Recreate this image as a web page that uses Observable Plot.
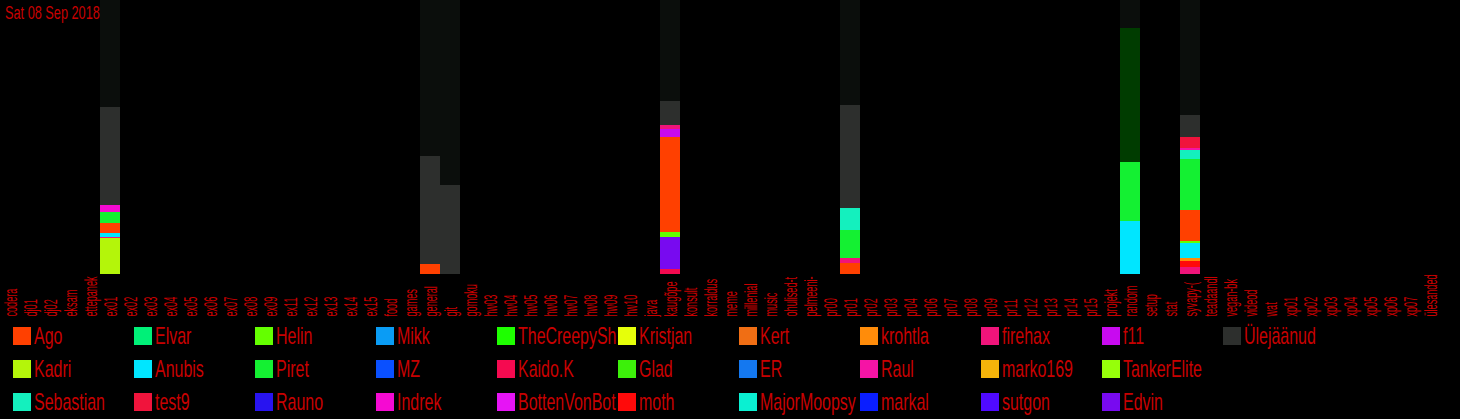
<!DOCTYPE html>
<html><head><meta charset="utf-8">
<script src="https://cdn.jsdelivr.net/npm/d3@7"></script>
<script src="https://cdn.jsdelivr.net/npm/@observablehq/plot@0.6"></script>
<style>
html,body{margin:0;padding:0;background:#000;}
#wrap{position:relative;width:1460px;height:419px;overflow:hidden;background:#000;font-family:"Liberation Sans",Arial,sans-serif;}
#wrap svg{display:block;}
#title{position:absolute;left:5px;top:3px;font-size:19px;line-height:19px;color:#c80000;transform:scaleX(0.67);transform-origin:0 0;white-space:nowrap;}
#legend{display:grid;grid-auto-flow:column;grid-template-rows:repeat(3,33px);grid-auto-columns:121px;padding-left:13px;}
.item{display:flex;align-items:center;overflow:hidden;white-space:nowrap;width:121px;}
.sw{width:18px;height:18px;flex:none;margin-right:3px;}
.lbl{flex:none;font-size:24px;line-height:33px;color:#c80000;transform:scaleX(0.665);transform-origin:0 50%;}
</style></head>
<body>
<div id="wrap"><div id="chart"></div><div id="title"></div><div id="legend"></div></div>
<script>
const title = "Sat 08 Sep 2018";

const channels = ["codera","dj01","dj02","eksam","ettepanek","ex01","ex02","ex03","ex04","ex05","ex06","ex07","ex08","ex09","ex11","ex12","ex13","ex14","ex15","food","games","general","git","gomoku","hw03","hw04","hw05","hw06","hw07","hw08","hw09","hw10","java","kaugõpe","konsult","korraldus","meme","millenial","music","ohulised-t","pelmeeni-","pr00","pr01","pr02","pr03","pr04","pr06","pr07","pr08","pr09","pr11","pr12","pr13","pr14","pr15","projekt","random","setup","stat","syvapy-(","teadaandl","vegan-bk","videod","wat","xp01","xp02","xp03","xp04","xp05","xp06","xp07","ülesanded"];

const users = ["Ago","Kadri","Sebastian","Elvar","Anubis","test9","Helin","Piret","Rauno","Mikk","MZ","Indrek","TheCreepySh","Kaido.K","BottenVonBot","Kristjan","Glad","moth","Kert","ER","MajorMoopsy","krohtla","Raul","markal","firehax","marko169","sutgon","f11","TankerElite","Edvin","Ülejäänud"];
const userColors = ["#ff4000","#b4f50a","#14f0be","#00f078","#00e6ff","#f0143c","#64ff00","#14f032","#2814f0","#0a9cf5","#0a50ff","#f50ad2","#1eff00","#f50a50","#e614f5","#e6ff0a","#3cf00a","#ff0a0a","#f06e14","#1478f0","#0af0d2","#ff8c0a","#f514a5","#0a1eff","#f0147a","#f5b40a","#500aff","#c80af0","#96ff0a","#780af0","#2d2f2d"];
const hiddenUser = "muu";
const hiddenColor = "#003c00";

const yMax = 274;
const backgroundColor = "#0b0e0c";

// stacks, bottom to top: [user, messages]
const stackEx01 = [["Kadri",36],["firehax",1],["Anubis",4],["Ago",10],["Piret",11],["Indrek",7],["Ülejäänud",98]];
const stackGeneral = [["Ago",10],["Ülejäänud",108]];
const stackGit = [["Ülejäänud",89]];
const stackKaugope = [["Kaido.K",5],["Edvin",32],["Helin",5],["Ago",95],["f11",8],["firehax",4],["Ülejäänud",24]];
const stackPr01 = [["Ago",11],["firehax",5],["Piret",28],["Sebastian",22],["Ülejäänud",103]];
const stackRandom = [["Anubis",53],["Piret",59],["muu",134]];
const stackSyvapy = [["firehax",7],["moth",6],["krohtla",3],["Anubis",15],["Helin",2],["Ago",31],["Piret",51],["Sebastian",9],["Raul",2],["test9",11],["Ülejäänud",22]];

const active = [["ex01",stackEx01],["general",stackGeneral],["git",stackGit],["kaugõpe",stackKaugope],["pr01",stackPr01],["random",stackRandom],["syvapy-(",stackSyvapy]];

const rows = [];
for (const [channel, stack] of active) for (const [user, value] of stack) rows.push({channel, user, value});

const svg = Plot.plot({
  width: 1460, height: 319,
  marginTop: 0, marginBottom: 45, marginLeft: 0, marginRight: 20,
  style: {background: "#000", fontFamily: "'Liberation Sans', Arial, sans-serif"},
  x: {domain: channels, padding: 0, axis: null},
  y: {domain: [0, yMax], axis: null},
  color: {domain: [...users, hiddenUser], range: [...userColors, hiddenColor]},
  marks: [
    Plot.barY(active.map(d => d[0]), {x: d => d, y: () => yMax, fill: backgroundColor}),
    Plot.barY(rows, {x: "channel", y: "value", fill: "user"}),
    Plot.text(channels, {x: d => d, text: d => d, frameAnchor: "bottom", rotate: -90, textAnchor: "start", lineAnchor: "middle", dy: 42, fill: "#c80000", fontSize: 19})
  ]
});
document.getElementById("chart").appendChild(svg);

// condense label glyphs and clip labels below plot area
const s = d3.select(svg);
const texts = s.selectAll("text");
texts.each(function() {
  const t = this.getAttribute("transform") || "";
  this.setAttribute("transform", t + " scale(0.48,1)");
});
const firstText = texts.node();
if (firstText) {
  const lgNode = firstText.parentNode;
  s.append("defs").append("clipPath").attr("id", "lblclip").append("rect")
    .attr("x", 0).attr("y", yMax).attr("width", 1460).attr("height", 45);
  const wrapper = s.append("g").attr("clip-path", "url(#lblclip)");
  wrapper.node().appendChild(lgNode);
}

document.getElementById("title").textContent = title;

const legend = d3.select("#legend");
users.forEach((u, i) => {
  const it = legend.append("div").attr("class", "item");
  it.append("div").attr("class", "sw").style("background", userColors[i]);
  it.append("span").attr("class", "lbl").text(u);
});
</script>
</body></html>
